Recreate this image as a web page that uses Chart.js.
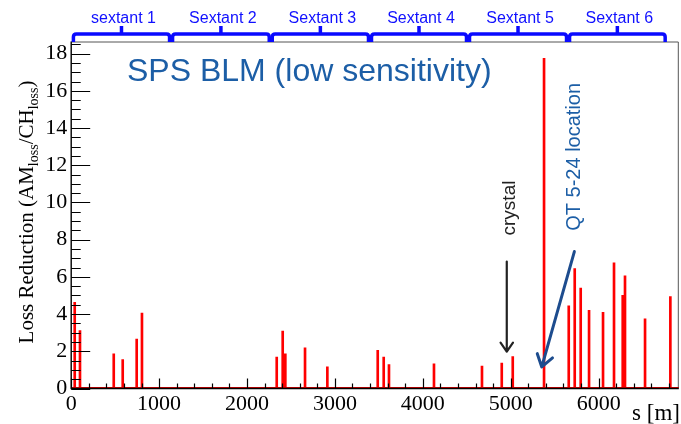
<!DOCTYPE html>
<html>
<head>
<meta charset="utf-8">
<script src="https://cdn.jsdelivr.net/npm/chart.js@4.4.1/dist/chart.umd.min.js"></script>
<style>
  html, body { margin: 0; padding: 0; background: #fff; }
  #wrap { width: 681px; height: 424px; }
</style>
</head>
<body>
<div id="wrap"><canvas id="blm" width="681" height="424"></canvas></div>
<script>
// BLM positions along the ring [m] and loss reduction ratio per monitor
const positions  = [40, 100, 484, 586, 745, 805, 2338, 2406, 2436, 2660, 2914, 3487, 3555, 3615, 4127,
                    4673, 4898, 5023, 5379, 5660, 5728, 5796, 5891, 6050, 6175, 6274, 6300, 6528, 6816];
const reductions = [4.63, 3.11, 1.87, 1.55, 2.66, 4.06, 1.69, 3.09, 1.87, 2.18, 1.16, 2.05, 1.69, 1.28, 1.32,
                    1.21, 1.37, 1.71, 17.75, 4.44, 6.44, 5.40, 4.20, 4.10, 6.76, 5.01, 6.06, 3.74, 4.94];

const sextantNames = ['sextant 1', 'Sextant 2', 'Sextant 3', 'Sextant 4', 'Sextant 5', 'Sextant 6'];
const sextantEdges = [8, 1136, 2270, 3399, 4514, 5652, 6774];

const xTickValues = [0, 1000, 2000, 3000, 4000, 5000, 6000];
const yTickValues = [0, 2, 4, 6, 8, 10, 12, 14, 16, 18];

const ringLength = 6912;
const yMax = 18.65;

// annotation anchors in data units: [s, value]
const crystalArrow = { from: [4955, 6.82], to: [4955, 1.98], label: [4985, 9.7] };
const qtArrow      = { from: [5724, 7.36], to: [5353, 1.16], label: [5730, 12.45] };

const SERIF = '"Liberation Serif", "DejaVu Serif", serif';
const SANS  = '"Liberation Sans", Arial, sans-serif';

function arrow(ctx, x0, y0, x1, y1, color, width, head) {
  const ang = Math.atan2(y1 - y0, x1 - x0);
  ctx.save();
  ctx.strokeStyle = color;
  ctx.lineWidth = width;
  ctx.lineCap = 'round';
  ctx.lineJoin = 'round';
  ctx.beginPath();
  ctx.moveTo(x0, y0);
  ctx.lineTo(x1, y1);
  ctx.moveTo(x1 - head * Math.cos(ang - 0.6), y1 - head * Math.sin(ang - 0.6));
  ctx.lineTo(x1, y1);
  ctx.lineTo(x1 - head * Math.cos(ang + 0.6), y1 - head * Math.sin(ang + 0.6));
  ctx.stroke();
  ctx.restore();
}

const frameAndNotes = {
  id: 'frameAndNotes',
  afterDatasetsDraw(chart) {
    const { ctx, chartArea: a, scales: { x, y } } = chart;
    ctx.save();

    // top / right frame
    ctx.strokeStyle = '#555';
    ctx.lineWidth = 1;
    ctx.beginPath();
    ctx.moveTo(a.left, a.top + 0.5);
    ctx.lineTo(a.right - 0.5, a.top + 0.5);
    ctx.lineTo(a.right - 0.5, a.bottom);
    ctx.stroke();

    // histogram baseline
    ctx.strokeStyle = '#d00';
    ctx.beginPath();
    ctx.moveTo(a.left, a.bottom - 1);
    ctx.lineTo(a.right, a.bottom - 1);
    ctx.stroke();

    // axes
    ctx.strokeStyle = '#000';
    ctx.lineWidth = 1.4;
    ctx.beginPath();
    ctx.moveTo(a.left, a.top);
    ctx.lineTo(a.left, a.bottom);
    ctx.lineTo(a.right, a.bottom);
    ctx.stroke();

    // inside ticks, y: major every 2, minor every 0.5
    ctx.lineWidth = 1.2;
    ctx.beginPath();
    for (let v = 0; v <= yMax + 1e-6; v += 0.5) {
      const py = Math.round(y.getPixelForValue(v)) + 0.5;
      const len = (Math.abs(v / 2 - Math.round(v / 2)) < 1e-6) ? 19 : 9.5;
      ctx.moveTo(a.left, py);
      ctx.lineTo(a.left + len, py);
    }
    // x: major every 1000, minor every 200
    for (let s = 0; s <= ringLength; s += 200) {
      const px = Math.round(x.getPixelForValue(s)) + 0.5;
      const len = (s % 1000 === 0) ? 10 : 5;
      ctx.moveTo(px, a.bottom);
      ctx.lineTo(px, a.bottom - len);
    }
    ctx.stroke();

    // sextant braces
    ctx.strokeStyle = '#0a0aff';
    ctx.lineWidth = 3.5;
    ctx.lineJoin = 'round';
    ctx.lineCap = 'butt';
    const yb = 34, yh = 42, yc = 26, r = 3;
    for (let i = 0; i < sextantNames.length; i++) {
      const e0 = x.getPixelForValue(sextantEdges[i]) + 1.5;
      const e1 = x.getPixelForValue(sextantEdges[i + 1]) - 1.5;
      const c = (e0 + e1) / 2;
      ctx.beginPath();
      ctx.moveTo(e0, yh);
      ctx.lineTo(e0, yb + r);
      ctx.quadraticCurveTo(e0, yb, e0 + r, yb);
      ctx.lineTo(e1 - r, yb);
      ctx.quadraticCurveTo(e1, yb, e1, yb + r);
      ctx.lineTo(e1, yh);
      ctx.moveTo(c, yb);
      ctx.lineTo(c, yc);
      ctx.stroke();

      ctx.fillStyle = '#1010ff';
      ctx.font = '16px ' + SANS;
      ctx.textAlign = 'center';
      ctx.textBaseline = 'alphabetic';
      ctx.fillText(sextantNames[i], c + 2, 23);
    }

    // title
    ctx.fillStyle = '#1c5ea6';
    ctx.font = '32px ' + SANS;
    ctx.textAlign = 'left';
    ctx.fillText('SPS BLM (low sensitivity)', 127, 81);

    // arrows
    arrow(ctx, x.getPixelForValue(crystalArrow.from[0]), y.getPixelForValue(crystalArrow.from[1]),
               x.getPixelForValue(crystalArrow.to[0]), y.getPixelForValue(crystalArrow.to[1]), '#222', 2.2, 11);
    arrow(ctx, x.getPixelForValue(qtArrow.from[0]), y.getPixelForValue(qtArrow.from[1]),
               x.getPixelForValue(qtArrow.to[0]), y.getPixelForValue(qtArrow.to[1]), '#1d4c8e', 3, 14);

    // rotated notes
    const vtext = (txt, sx, sv, font, color) => {
      ctx.save();
      ctx.translate(x.getPixelForValue(sx), y.getPixelForValue(sv));
      ctx.rotate(-Math.PI / 2);
      ctx.fillStyle = color;
      ctx.font = font;
      ctx.textAlign = 'center';
      ctx.textBaseline = 'middle';
      ctx.fillText(txt, 0, 0);
      ctx.restore();
    };
    vtext('crystal', crystalArrow.label[0], crystalArrow.label[1], '19px ' + SANS, '#222');
    vtext('QT 5-24 location', qtArrow.label[0], qtArrow.label[1], '20px ' + SANS, '#1c5ea6');

    // y axis title with subscripts
    const parts = [
      ['Loss Reduction (AM', false], ['loss', true], ['/CH', false], ['loss', true], [')', false]
    ];
    const big = '21px ' + SERIF, small = '14px ' + SERIF;
    let total = 0;
    parts.forEach(([t, sub]) => { ctx.font = sub ? small : big; total += ctx.measureText(t).width; });
    ctx.save();
    ctx.translate(33, 212);
    ctx.rotate(-Math.PI / 2);
    ctx.fillStyle = '#000';
    ctx.textAlign = 'left';
    ctx.textBaseline = 'alphabetic';
    let cx = -total / 2;
    parts.forEach(([t, sub]) => {
      ctx.font = sub ? small : big;
      ctx.fillText(t, cx, sub ? 5 : 0);
      cx += ctx.measureText(t).width;
    });
    ctx.restore();

    // x axis title
    ctx.fillStyle = '#000';
    ctx.font = '23px ' + SERIF;
    ctx.textAlign = 'right';
    ctx.fillText('s [m]', 680, 420);

    ctx.restore();
  }
};

new Chart(document.getElementById('blm'), {
  type: 'bar',
  data: {
    datasets: [{
      data: positions.map((s, i) => ({ x: s, y: reductions[i] })),
      backgroundColor: '#ff0000',
      borderWidth: 0,
      barThickness: 2
    }]
  },
  options: {
    responsive: false,
    animation: false,
    layout: { padding: { left: 0, right: 2.2, top: 41.5, bottom: 0 } },
    plugins: { legend: { display: false }, tooltip: { enabled: false } },
    scales: {
      x: {
        type: 'linear',
        min: 0,
        max: ringLength,
        offset: false,
        grid: { display: false, drawTicks: false, offset: false },
        border: { display: false },
        afterBuildTicks: s => { s.ticks = xTickValues.map(v => ({ value: v })); },
        afterFit: s => { s.height = 35.5; s.paddingLeft = 0; s.paddingRight = 0; },
        ticks: {
          autoSkip: false,
          maxRotation: 0,
          padding: 3,
          color: '#000',
          font: { family: SERIF, size: 22 },
          callback: v => String(v)
        }
      },
      y: {
        min: 0,
        max: yMax,
        grid: { display: false, drawTicks: false },
        border: { display: false },
        afterBuildTicks: s => { s.ticks = yTickValues.map(v => ({ value: v })); },
        afterFit: s => { s.width = 71.2; },
        ticks: {
          padding: 4,
          color: '#000',
          font: { family: SERIF, size: 22 },
          callback: v => String(v)
        }
      }
    }
  },
  plugins: [frameAndNotes]
});
</script>
</body>
</html>
